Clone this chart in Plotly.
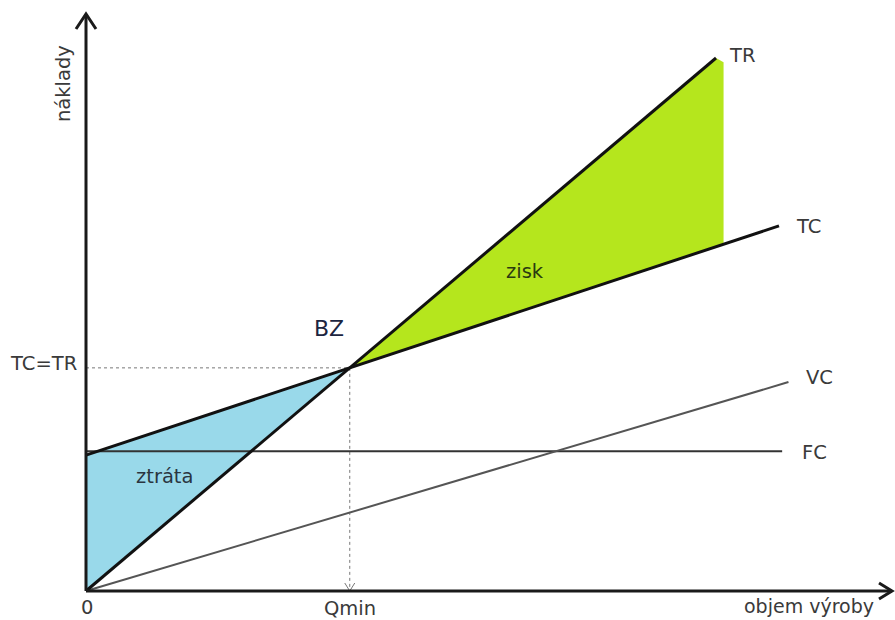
import plotly.graph_objects as go

# Canvas and scale (pixels per unit on each axis)
W, H = 895, 620
OX, OY = 86, 591          # screen position of the origin
SX, SY = 63.0, 53.3

# Cost / revenue lines (output on x, cost on y)
tr_x = [0.0, 10.0]
tr_y = [0.0, 10.0]
tc_x = [0.0, 11.0]
tc_y = [2.55, 6.85]
fc_x = [0.0, 11.05]
fc_y = [2.62, 2.62]
vc_x = [0.0, 11.15]
vc_y = [0.0, 3.92]
profit_end_x = 10.12

curve_labels = ["TR", "TC", "VC", "FC"]


def px(x):
    return (x - OX) / SX


def py(y):
    return (OY - y) / SY


tr_slope = (tr_y[1] - tr_y[0]) / (tr_x[1] - tr_x[0])
tc_slope = (tc_y[1] - tc_y[0]) / (tc_x[1] - tc_x[0])


def tc_at(x):
    return tc_y[0] + tc_slope * x


# Break-even point: TC = TR
bz_x = tc_y[0] / (tr_slope - tc_slope)
bz_y = tr_slope * bz_x

fig = go.Figure()

# Loss area (ztráta)
fig.add_trace(go.Scatter(
    x=[0, 0, bz_x, 0], y=[0, tc_y[0], bz_y, 0],
    fill="toself", fillcolor="#99d9ea", mode="none", hoverinfo="skip"))

# Profit area (zisk)
fig.add_trace(go.Scatter(
    x=[bz_x, tr_x[1], profit_end_x, profit_end_x, bz_x],
    y=[bz_y, tr_y[1], tr_y[1] - 0.08, tc_at(profit_end_x), bz_y],
    fill="toself", fillcolor="#b5e61d", mode="none", hoverinfo="skip"))

# Dotted guides to the break-even point
guide = dict(color="#777777", width=1, dash="dot")
fig.add_trace(go.Scatter(x=[0, bz_x], y=[bz_y, bz_y], mode="lines", line=guide))
fig.add_trace(go.Scatter(x=[bz_x, bz_x], y=[bz_y, 0], mode="lines", line=guide))
fig.add_trace(go.Scatter(
    x=[bz_x - 5 / SX, bz_x, bz_x + 5 / SX], y=[8 / SY, 0, 8 / SY],
    mode="lines", line=dict(color="#777777", width=1)))

# Cost and revenue lines
fig.add_trace(go.Scatter(x=fc_x, y=fc_y, mode="lines", line=dict(color="#333333", width=2)))
fig.add_trace(go.Scatter(x=vc_x, y=vc_y, mode="lines", line=dict(color="#555555", width=2)))
fig.add_trace(go.Scatter(x=tr_x, y=tr_y, mode="lines", line=dict(color="#111111", width=3)))
fig.add_trace(go.Scatter(x=tc_x, y=tc_y, mode="lines", line=dict(color="#111111", width=3)))

# Axes with open arrowheads
y_top = py(14)
x_right = px(892)
axis = dict(color="#1a1a1a", width=3)
fig.add_trace(go.Scatter(x=[0, 0], y=[0, y_top], mode="lines", line=axis))
fig.add_trace(go.Scatter(x=[-10 / SX, 0, 10 / SX], y=[y_top - 15 / SY, y_top, y_top - 15 / SY],
                         mode="lines", line=axis))
fig.add_trace(go.Scatter(x=[0, x_right], y=[0, 0], mode="lines", line=axis))
fig.add_trace(go.Scatter(x=[x_right - 13 / SX, x_right, x_right - 13 / SX], y=[8 / SY, 0, -8 / SY],
                         mode="lines", line=axis))

FONT = "DejaVu Sans"
TXT = "#3a3a3a"


def label(text, x, y, size=19.5, color=TXT, angle=0):
    fig.add_annotation(x=px(x), y=py(y), text=text, showarrow=False,
                       textangle=angle, font=dict(family=FONT, size=size, color=color),
                       xanchor="center", yanchor="middle")


label("náklady", 63, 84, angle=-90)
label("TC=TR", 43, 363)
label("BZ", 329, 328, size=22, color="#1c2540")
label("ztráta", 164, 476, color="#2a3540")
label("zisk", 525, 271, color="#2a3a10")
label("0", 87, 607)
label("Qmin", 350, 608)
label("objem výroby", 809, 606, size=19)
for name, (lx, ly) in zip(curve_labels, [(742, 55), (808, 226), (819, 377), (814, 452)]):
    label(name, lx, ly)

fig.update_layout(
    width=W, height=H,
    margin=dict(l=0, r=0, t=0, b=0),
    paper_bgcolor="white", plot_bgcolor="white",
    showlegend=False,
    xaxis=dict(range=[px(0), px(W)], visible=False, fixedrange=True),
    yaxis=dict(range=[py(H), py(0)], visible=False, fixedrange=True),
)

fig.write_html("out.html")
